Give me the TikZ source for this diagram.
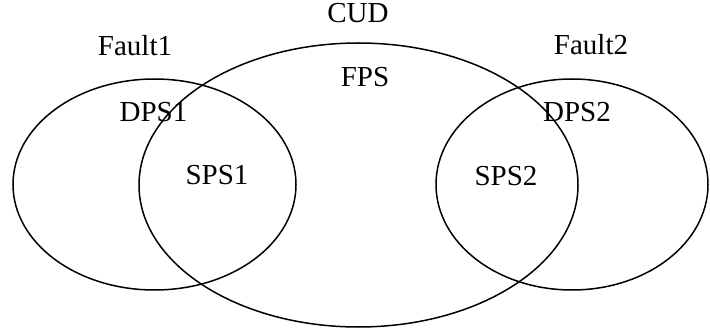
\documentclass[tikz,border=0pt]{standalone}
\usepackage{fontspec}
\setmainfont{Liberation Serif}
\usetikzlibrary{shapes.geometric}
\begin{document}
\begin{tikzpicture}[x=1pt,y=-1pt,
  set/.style={draw, ellipse, line width=1.5pt, inner sep=0pt, outer sep=0pt},
  lbl/.style={anchor=base, inner sep=0pt, font=\fontsize{29}{33}\selectfont}]
  \useasboundingbox (0,0) rectangle (710,331);
  % the three sets
  \node[set, minimum width=283pt, minimum height=211pt] (fault1) at (154.5,184.5) {};
  \node[set, minimum width=439pt, minimum height=284pt] (cud) at (358.5,185) {};
  \node[set, minimum width=272pt, minimum height=211pt] (fault2) at (572,184.5) {};
  % set names and regions
  \node[lbl] (cudname) at (358,23) {CUD};
  \node[lbl] (f1name) at (135,56) {Fault1};
  \node[lbl] (f2name) at (591,55) {Fault2};
  \node[lbl] (fps) at (365,87) {FPS};
  \node[lbl] (dps1) at (153.5,122) {DPS1};
  \node[lbl] (dps2) at (577,122) {DPS2};
  \node[lbl] (sps1) at (217,185) {SPS1};
  \node[lbl] (sps2) at (506,186) {SPS2};
\end{tikzpicture}
\end{document}
